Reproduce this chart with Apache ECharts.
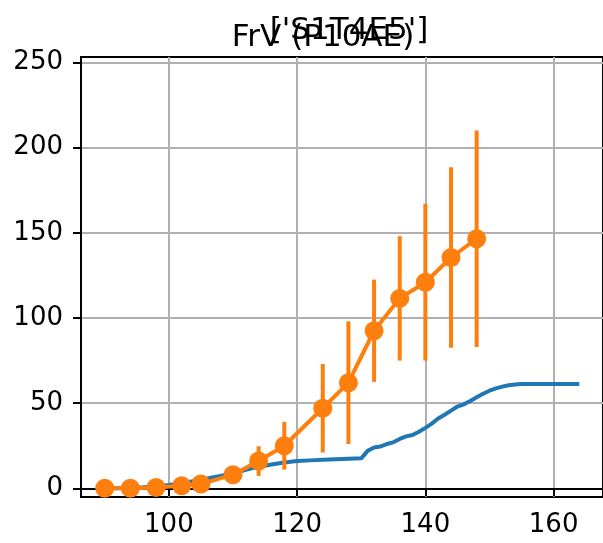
<!DOCTYPE html>
<html>
<head>
<meta charset="utf-8">
<script src="https://cdn.jsdelivr.net/npm/echarts@6/dist/echarts.min.js"></script>
<style>html,body{margin:0;padding:0;background:#fff}#c{width:603px;height:543px}</style>
</head>
<body>
<div id="c"></div>
<script>
const titleAxes = "['S1T4E5']";
const titleFig = "FrV (P10AE)";
const xTicks = [100, 120, 140, 160];
const yTicks = [0, 50, 100, 150, 200, 250];
const blueX = [90,92,94,96,98,100,102,104,106,108,110,112,114,116,118,120,122,124,126,128,130,131,132,133,134,135,136,137,138,139,140,141,142,143,144,145,146,147,148,149,150,151,152,153,154,155,156,158,160,162,164];
const blueY = [0,0,0.3,0.6,1.0,2.0,3.0,4.3,5.8,7.2,8.8,10.8,12.7,14.0,15.2,16.0,16.4,16.7,17.0,17.3,17.6,22.0,24.0,24.6,26.0,27.0,29.0,30.5,31.3,33.2,35.5,38.0,41.0,43.2,45.6,48.0,49.3,51.3,53.5,55.5,57.3,58.7,59.7,60.5,61.0,61.3,61.3,61.3,61.3,61.3,61.3];
const orangeX = [90,94,98,102,105,110,114,118,124,128,132,136,140,144,148];
const orangeY = [0,0,0.5,1.5,2.5,8,16,25,47,62,92.5,111.5,121,135.5,146.5];
const orangeErr = [0,0,0,0,0,0,8.7,14,26,36,30,36.5,46,53,63.5];

const FONT = 'DejaVu Sans';
const blue = blueX.map((x,i)=>[x, blueY[i]]);
const orange = orangeX.map((x,i)=>[x, orangeY[i]]);
const errs = orangeX.map((x,i)=>[x, orangeY[i]-orangeErr[i], orangeY[i]+orangeErr[i]]);

const chart = echarts.init(document.getElementById('c'), null, {renderer:'canvas'});
chart.setOption({
  animation: false,
  backgroundColor: '#ffffff',
  title: [
    {text: titleAxes, left: 344, top: 10, textAlign: 'center',
     textStyle:{fontFamily:FONT, fontSize:31, fontWeight:'normal', color:'#000'}},
    {text: titleFig, left: 318, top: 17, textAlign: 'center',
     textStyle:{fontFamily:FONT, fontSize:31, fontWeight:'normal', color:'#000'}}
  ],
  grid: {left: 81, top: 57, right: -3, bottom: 46, show: true, borderColor: '#000', borderWidth: 2, backgroundColor: 'transparent'},
  xAxis: {
    type: 'value', min: 86.3, max: 167.7,
    axisLine: {show: true, lineStyle: {color: '#000', width: 2}},
    axisTick: {show: true, length: 8, lineStyle: {color: '#000', width: 2}, customValues: xTicks},
    axisLabel: {fontFamily: FONT, fontSize: 26, color: '#000', margin: 15, customValues: xTicks},
    splitLine: {show: true, lineStyle: {color: '#b0b0b0', width: 2}}
  },
  yAxis: {
    type: 'value', min: -5.1, max: 253.2,
    axisLine: {show: true, lineStyle: {color: '#000', width: 2}},
    axisTick: {show: true, length: 8, lineStyle: {color: '#000', width: 2}, customValues: yTicks},
    axisLabel: {fontFamily: FONT, fontSize: 26, color: '#000', margin: 18, customValues: yTicks},
    splitLine: {show: true, lineStyle: {color: '#b0b0b0', width: 2}}
  },
  series: [
    {type: 'line', data: blue, showSymbol: false, symbol: 'none',
     lineStyle: {color: '#1f77b4', width: 4}, z: 2},
    {type: 'custom', data: errs, z: 3,
     renderItem: function(params, api){
       const p1 = api.coord([api.value(0), api.value(1)]);
       const p2 = api.coord([api.value(0), api.value(2)]);
       return {type:'line', shape:{x1:p1[0], y1:p1[1], x2:p2[0], y2:p2[1]},
               style:{stroke:'#ff7f0e', lineWidth:4}};
     }},
    {type: 'line', data: orange, symbol: 'circle', symbolSize: 19, showSymbol: true,
     lineStyle: {color: '#ff7f0e', width: 4}, itemStyle: {color: '#ff7f0e'}, z: 4}
  ]
});
</script>
</body>
</html>
